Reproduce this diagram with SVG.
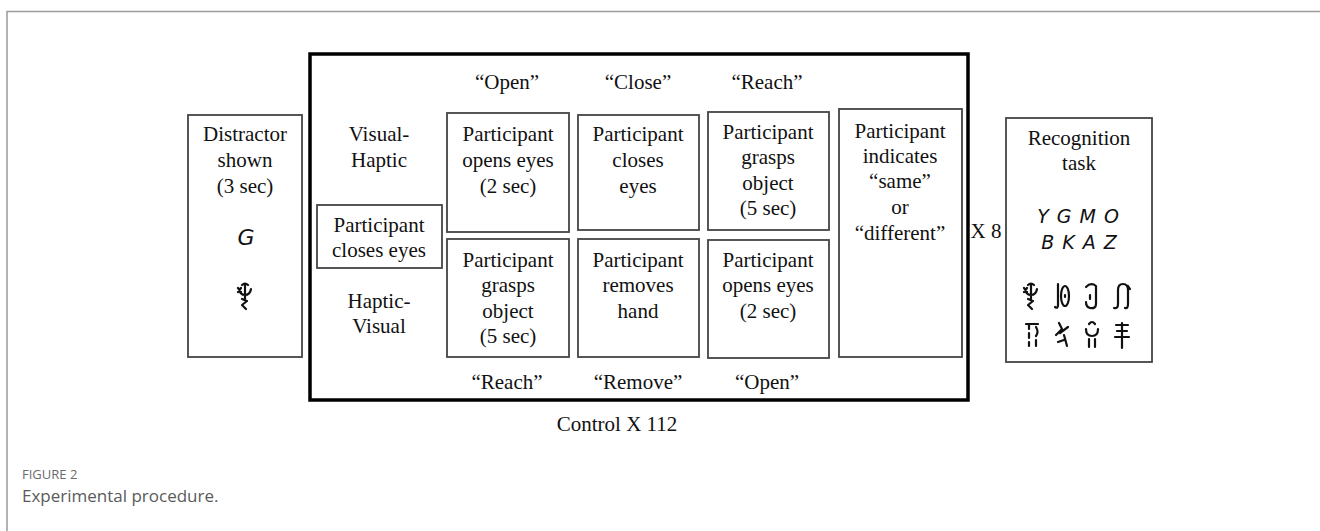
<svg xmlns="http://www.w3.org/2000/svg" width="1320" height="531" viewBox="0 0 1320 531">
<style>
.t{font-family:"Liberation Serif","Times New Roman",serif;font-size:21px;fill:#111;text-anchor:middle}
.box{fill:none;stroke:#444;stroke-width:1.8}
.hw{font-family:"DejaVu Sans",sans-serif;font-style:italic;fill:#111;text-anchor:middle}
.sym{fill:none;stroke:#111;stroke-width:2.2;stroke-linecap:round;stroke-linejoin:round}
.cap1{font-family:"Open Sans","Noto Sans",sans-serif;font-size:13px;fill:#6b6b6b}
.cap2{font-family:"Open Sans","Noto Sans",sans-serif;font-size:17px;fill:#5a5a5a}
</style>
<defs>
<g id="s1" class="sym"><path d="M6,3 Q9,0 12,3 M9,3 V17 M3,7 Q4,13 9,13 Q14,13 15,7 M2,6 L5,10 M5,6 L2,10 M6,17 L11,19 L6,23 L10,27"/></g>
<g id="s2" class="sym"><path d="M4,2 V23 Q4,27 1,25"/><ellipse cx="11" cy="14" rx="4" ry="10"/><path d="M11,13 V15"/></g>
<g id="s3" class="sym"><path d="M3,5 Q8,0 13,4 V22 Q13,27 7,26 Q3,25 3,20 M7,13 V17"/></g>
<g id="s4" class="sym"><path d="M2,26 Q6,27 6,22 V8 Q6,2 11,2 Q16,2 16,8 V22 Q16,27 13,26 M16,4 L18,7"/></g>
<g id="s5" class="sym"><path d="M2,4 H14 M5,4 V9 M5,13 V18 M5,22 V26 M12,7 Q15,12 12,16 M12,20 V26"/></g>
<g id="s6" class="sym"><path d="M5,3 L8,9 L2,15 M6,13 L14,7 M10,15 L13,26 M4,22 L10,20"/></g>
<g id="s7" class="sym"><path d="M6,4 Q9,0 12,4 M3,9 Q3,16 9,16 Q15,16 15,9 M6,19 V27 M12,19 V27"/></g>
<g id="s8" class="sym"><path d="M3,5 H15 M4,11 H14 M2,17 H16 M9,3 V28"/></g>
</defs>
<g id="frame"><path d="M7,531 V11.5 H1320" fill="none" stroke="#9a9a9a" stroke-width="1.5"/></g>
<g id="control"><rect x="310" y="54" width="658" height="346" fill="none" stroke="#000" stroke-width="3.5"/></g>
<g id="distractor">
<rect class="box" x="188" y="115" width="114" height="242"/>
<text class="t" x="245" y="141">Distractor</text>
<text class="t" x="245" y="167">shown</text>
<text class="t" x="245" y="193">(3 sec)</text>
<text class="hw" x="246" y="245" font-size="22">G</text>
<use href="#s1" x="236" y="282"/>
</g>
<g id="labels-left">
<text class="t" x="379" y="141">Visual-</text>
<text class="t" x="379" y="167">Haptic</text>
<text class="t" x="379" y="308">Haptic-</text>
<text class="t" x="379" y="333">Visual</text>
</g>
<g id="closes-eyes-start">
<rect class="box" x="317" y="205" width="125" height="63"/>
<text class="t" x="379" y="232">Participant</text>
<text class="t" x="379" y="257">closes eyes</text>
</g>
<g id="cues-top">
<text class="t" x="507" y="89">“Open”</text>
<text class="t" x="638" y="89">“Close”</text>
<text class="t" x="767" y="89">“Reach”</text>
</g>
<g id="vh-open">
<rect class="box" x="447" y="113" width="122" height="119"/>
<text class="t" x="508" y="141">Participant</text>
<text class="t" x="508" y="167">opens eyes</text>
<text class="t" x="508" y="193">(2 sec)</text>
</g>
<g id="vh-close">
<rect class="box" x="578" y="115" width="121" height="115"/>
<text class="t" x="638" y="141">Participant</text>
<text class="t" x="638" y="167">closes</text>
<text class="t" x="638" y="193">eyes</text>
</g>
<g id="vh-grasp">
<rect class="box" x="708" y="112" width="121" height="118"/>
<text class="t" x="768" y="139">Participant</text>
<text class="t" x="768" y="164">grasps</text>
<text class="t" x="768" y="190">object</text>
<text class="t" x="768" y="215">(5 sec)</text>
</g>
<g id="hv-grasp">
<rect class="box" x="447" y="239" width="122" height="118"/>
<text class="t" x="508" y="267">Participant</text>
<text class="t" x="508" y="292">grasps</text>
<text class="t" x="508" y="318">object</text>
<text class="t" x="508" y="343">(5 sec)</text>
</g>
<g id="hv-remove">
<rect class="box" x="578" y="239" width="121" height="118"/>
<text class="t" x="638" y="267">Participant</text>
<text class="t" x="638" y="292">removes</text>
<text class="t" x="638" y="318">hand</text>
</g>
<g id="hv-open">
<rect class="box" x="708" y="240" width="121" height="118"/>
<text class="t" x="768" y="267">Participant</text>
<text class="t" x="768" y="292">opens eyes</text>
<text class="t" x="768" y="318">(2 sec)</text>
</g>
<g id="indicate">
<rect class="box" x="839" y="109" width="123" height="248"/>
<text class="t" x="900" y="138">Participant</text>
<text class="t" x="900" y="163">indicates</text>
<text class="t" x="900" y="188">“same”</text>
<text class="t" x="900" y="214">or</text>
<text class="t" x="900" y="240">“different”</text>
</g>
<g id="cues-bottom">
<text class="t" x="507" y="389">“Reach”</text>
<text class="t" x="638" y="389">“Remove”</text>
<text class="t" x="767" y="389">“Open”</text>
</g>
<g id="repeat"><text class="t" x="986" y="238">X 8</text></g>
<g id="recognition">
<rect class="box" x="1006" y="118" width="146" height="244"/>
<text class="t" x="1079" y="145">Recognition</text>
<text class="t" x="1079" y="170">task</text>
<text class="hw" x="1082" y="223" font-size="19" letter-spacing="8">YGMO</text>
<text class="hw" x="1083" y="249" font-size="19" letter-spacing="8">BKAZ</text>
<use href="#s1" x="1022" y="282"/>
<use href="#s2" x="1054" y="282"/>
<use href="#s3" x="1083" y="282"/>
<use href="#s4" x="1112" y="282"/>
<use href="#s5" x="1024" y="320"/>
<use href="#s6" x="1054" y="320"/>
<use href="#s7" x="1083" y="320"/>
<use href="#s8" x="1113" y="320"/>
</g>
<g id="footer"><text class="t" x="617" y="431">Control X 112</text></g>
<g id="caption">
<text class="cap1" x="22" y="479">FIGURE 2</text>
<text class="cap2" x="22" y="502">Experimental procedure.</text>
</g>
</svg>
